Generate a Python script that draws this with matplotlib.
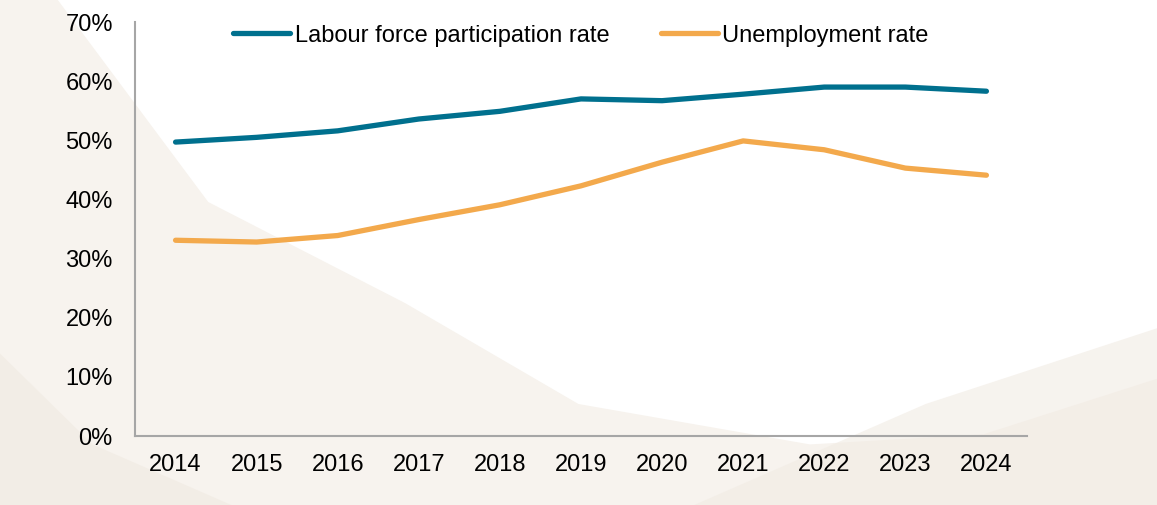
import matplotlib
matplotlib.use("Agg")
import matplotlib.pyplot as plt
from matplotlib.patches import Polygon
from matplotlib.ticker import FuncFormatter

plt.rcParams['font.family'] = ['Liberation Sans', 'DejaVu Sans']

years = ["2014", "2015", "2016", "2017", "2018", "2019", "2020", "2021", "2022", "2023", "2024"]
participation = [49.7, 50.5, 51.6, 53.6, 54.9, 57.0, 56.7, 57.8, 59.0, 59.0, 58.3]
unemployment = [33.1, 32.8, 33.9, 36.6, 39.1, 42.3, 46.3, 49.9, 48.4, 45.3, 44.1]

teal = "#00708E"
orange = "#F3A94C"

fig = plt.figure(figsize=(11.57, 5.05), dpi=100)
fig.patch.set_facecolor("#FFFFFF")

# soft decorative background shapes
bg = fig.add_axes([0, 0, 1, 1], zorder=-10)
bg.set_xlim(0, 1)
bg.set_ylim(0, 1)
bg.axis("off")
bg.add_patch(Polygon([[0, 1], [0.05, 1], [0.18, 0.6], [0.35, 0.4], [0.5, 0.2], [0.7, 0.12],
                      [0.85, 0.14], [1, 0.25], [1, 0], [0, 0]],
                     closed=True, facecolor="#F7F3EE", edgecolor="none"))
bg.add_patch(Polygon([[0, 0.3], [0.08, 0.12], [0.2, 0.0], [0, 0]],
                     closed=True, facecolor="#F1EBE3", edgecolor="none", alpha=0.7))
bg.add_patch(Polygon([[0.6, 0], [0.8, 0.2], [1, 0.35], [1, 0]],
                     closed=True, facecolor="#F1EBE3", edgecolor="none", alpha=0.6))

ax = fig.add_axes([0.1167, 0.1366, 0.7709, 0.8198])
ax.patch.set_alpha(0)

x = range(len(years))
ax.plot(x, participation, color=teal, lw=3.8, solid_capstyle="round",
        label="Labour force participation rate")
ax.plot(x, unemployment, color=orange, lw=3.8, solid_capstyle="round",
        label="Unemployment rate")

ax.set_xlim(-0.5, len(years) - 0.5)
ax.set_ylim(0, 70)
ax.set_yticks(range(0, 71, 10))
ax.yaxis.set_major_formatter(FuncFormatter(lambda v, p: f"{int(v)}%"))
ax.set_xticks(list(x))
ax.set_xticklabels(years)
ax.tick_params(axis="both", length=0, labelsize=17, colors="black")
ax.tick_params(axis="y", pad=16)
ax.tick_params(axis="x", pad=13)

for side in ("top", "right"):
    ax.spines[side].set_visible(False)
for side in ("left", "bottom"):
    ax.spines[side].set_color("#A6A6A6")
    ax.spines[side].set_linewidth(1.5)

leg = ax.legend(loc="upper center", bbox_to_anchor=(0.5, 1.045), ncol=2, frameon=False,
                fontsize=17, handlelength=2.4, handletextpad=0.2, columnspacing=2.2)

fig.savefig("out.png", dpi=100, facecolor=fig.get_facecolor())
